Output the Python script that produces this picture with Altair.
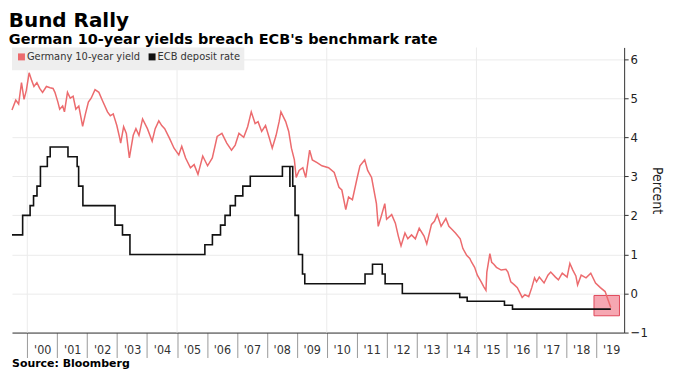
import altair as alt
import pandas as pd

# ---- Data ----
yield_dates = [
    "1999-06-28", "1999-08-13", "1999-09-17", "1999-10-22", "1999-11-22", "1999-12-20",
    "2000-01-23", "2000-02-24", "2000-03-22", "2000-04-27", "2000-05-31", "2000-07-05",
    "2000-08-21", "2000-10-05", "2000-11-10", "2000-12-03", "2001-01-08", "2001-01-30",
    "2001-03-07", "2001-03-29", "2001-05-05", "2001-06-08", "2001-07-13", "2001-08-15",
    "2001-09-20", "2001-11-06", "2001-12-10", "2002-01-15", "2002-02-18", "2002-04-06",
    "2002-05-23", "2002-07-09", "2002-09-05", "2002-10-09", "2002-11-14", "2002-12-28",
    "2003-02-02", "2003-02-13", "2003-03-21", "2003-04-23", "2003-05-30", "2003-07-16",
    "2003-08-18", "2003-09-24", "2003-11-07", "2004-01-05", "2004-03-03", "2004-04-09",
    "2004-05-23", "2004-06-28", "2004-08-03", "2004-10-01", "2004-11-25", "2005-01-22",
    "2005-02-27", "2005-04-15", "2005-06-13", "2005-07-28", "2005-09-13", "2005-11-10",
    "2006-01-08", "2006-03-07", "2006-05-05", "2006-07-02", "2006-08-30", "2006-10-27",
    "2006-12-11", "2007-01-26", "2007-03-25", "2007-05-12", "2007-06-25", "2007-08-11",
    "2007-09-16", "2007-10-30", "2007-12-16", "2008-02-02", "2008-03-07", "2008-04-23",
    "2008-05-30", "2008-06-21", "2008-08-18", "2008-09-24", "2008-10-27", "2008-12-02",
    "2008-12-24", "2009-01-29", "2009-03-15", "2009-04-20", "2009-06-06", "2009-07-09",
    "2009-09-05", "2009-11-03", "2010-01-23", "2010-04-02", "2010-05-30", "2010-07-04",
    "2010-08-21", "2010-09-24", "2010-11-10", "2011-01-08", "2011-02-10", "2011-04-09",
    "2011-05-15", "2011-07-02", "2011-08-30", "2011-09-21", "2011-10-27", "2011-12-10",
    "2012-01-01", "2012-03-03", "2012-04-17", "2012-05-23", "2012-06-25", "2012-08-12",
    "2012-09-16", "2012-10-31", "2012-12-17", "2013-02-02", "2013-04-02", "2013-05-05",
    "2013-07-02", "2013-08-07", "2013-09-09", "2013-10-27", "2013-12-24", "2014-01-30",
    "2014-03-04", "2014-04-20", "2014-06-17", "2014-07-20", "2014-09-06", "2014-10-12",
    "2014-11-03", "2014-12-10", "2015-01-12", "2015-02-28", "2015-04-01", "2015-04-27",
    "2015-05-08", "2015-06-14", "2015-07-06", "2015-08-01", "2015-09-02", "2015-10-30",
    "2015-12-27", "2016-01-20", "2016-02-24", "2016-04-08", "2016-05-14", "2016-07-12",
    "2016-08-14", "2016-09-30", "2016-11-06", "2016-12-10", "2017-01-03", "2017-02-06",
    "2017-04-05", "2017-05-22", "2017-06-25", "2017-08-22", "2017-09-27", "2017-11-13",
    "2018-01-11", "2018-02-14", "2018-03-22", "2018-04-28", "2018-05-19", "2018-07-02",
    "2018-08-30", "2018-10-27", "2018-12-24", "2019-02-21", "2019-04-20", "2019-05-23",
    "2019-06-28",
]
yield_values = [
    4.70, 4.95, 4.85, 5.40, 4.97, 5.20,
    5.65, 5.45, 5.30, 5.40, 5.25, 5.15,
    5.30, 5.27, 5.25, 5.15, 4.90, 4.72,
    4.80, 4.65, 5.15, 5.00, 5.05, 4.72,
    4.80, 4.28, 4.60, 4.90, 5.00, 5.22,
    5.15, 4.92, 4.65, 4.55, 4.60, 4.30,
    3.97, 3.85, 4.27, 4.10, 3.47, 4.05,
    4.22, 4.05, 4.47, 4.22, 3.90, 4.22,
    4.42, 4.30, 4.22, 3.97, 3.72, 3.55,
    3.77, 3.47, 3.22, 3.30, 3.05, 3.52,
    3.27, 3.47, 4.02, 4.10, 3.85, 3.67,
    3.80, 4.10, 4.00, 4.27, 4.65, 4.35,
    4.40, 4.15, 4.30, 3.97, 3.72, 4.05,
    4.40, 4.65, 4.40, 4.15, 3.72, 3.42,
    2.97, 3.15, 3.22, 2.97, 3.67, 3.42,
    3.35, 3.27, 3.22, 3.10, 2.72, 2.65,
    2.15, 2.47, 2.40, 2.97, 3.27, 3.42,
    3.15, 2.97, 2.30, 1.72, 1.97, 2.30,
    1.90, 2.02, 1.80, 1.47, 1.22, 1.55,
    1.40, 1.50, 1.40, 1.67, 1.47, 1.27,
    1.77, 1.85, 2.02, 1.72, 1.92, 1.72,
    1.65, 1.55, 1.40, 1.15, 0.97, 0.90,
    0.80, 0.67, 0.47, 0.30, 0.17, 0.08,
    0.55, 1.02, 0.80, 0.75, 0.67, 0.60,
    0.62, 0.55, 0.30, 0.22, 0.15, -0.10,
    -0.03, -0.08, 0.15, 0.40, 0.30, 0.42,
    0.27, 0.47, 0.55, 0.42, 0.35, 0.52,
    0.42, 0.77, 0.60, 0.45, 0.22, 0.47,
    0.40, 0.52, 0.27, 0.15, 0.05, -0.15,
    -0.36,
]

ecb_dates = [
    "1999-06-28", "1999-11-05", "2000-02-04", "2000-03-17", "2000-04-28", "2000-06-09",
    "2000-09-01", "2000-10-06", "2001-05-11", "2001-08-31", "2001-09-18", "2001-11-09",
    "2002-12-06", "2003-03-07", "2003-06-06", "2005-12-06", "2006-03-08", "2006-06-15",
    "2006-08-09", "2006-10-11", "2006-12-13", "2007-03-14", "2007-06-13", "2008-07-09",
    "2008-10-08", "2008-10-09", "2008-11-12", "2008-12-10", "2009-01-21", "2009-03-11",
    "2009-04-08", "2011-04-13", "2011-07-13", "2011-11-09", "2011-12-14", "2012-07-11",
    "2014-06-11", "2014-09-10", "2015-12-09", "2016-03-16", "2019-06-28",
]
ecb_values = [
    1.50, 2.00, 2.25, 2.50, 2.75, 3.25,
    3.50, 3.75, 3.50, 3.25, 2.75, 2.25,
    1.75, 1.50, 1.00, 1.25, 1.50, 1.75,
    2.00, 2.25, 2.50, 2.75, 3.00, 3.25,
    2.75, 3.25, 2.75, 2.00, 1.00, 0.50,
    0.25, 0.50, 0.75, 0.50, 0.25, 0.00,
    -0.10, -0.20, -0.30, -0.40, -0.40,
]

series_names = ["Germany 10-year yield", "ECB deposit rate"]
series_colors = ["#ec6b6e", "#111111"]
grid_years = ["2000-01-01", "2005-01-01", "2010-01-01", "2015-01-01"]
highlight_start = ["2018-12-05"]
highlight_end = ["2019-10-12"]
highlight_top = [-0.05]
highlight_bottom = [-0.57]
y_ticks = [-1, 0, 1, 2, 3, 4, 5, 6]
title_text = "Bund Rally"
subtitle_text = "German 10-year yields breach ECB's benchmark rate"
source_text = "Source: Bloomberg"

# ---- Tables ----
yld = pd.DataFrame({"date": yield_dates, "value": yield_values,
                    "series": series_names[0]})
ecb = pd.DataFrame({"date": ecb_dates, "value": ecb_values,
                    "series": series_names[1]})
grid = pd.DataFrame({"date": grid_years})
hl = pd.DataFrame({"date": highlight_start, "date2": highlight_end,
                   "value": highlight_top, "value2": highlight_bottom})
src = pd.DataFrame({"t": [source_text]})

W, H = 614, 286
LABEL_FONT = "DejaVu Sans Condensed, Liberation Sans Narrow, sans-serif"

x_scale = alt.Scale(domain=[alt.DateTime(year=1999, month=6, date=28),
                            alt.DateTime(year=2019, month=12, date=8)])
x_axis = alt.Axis(format="'%y", tickCount={"interval": "year", "step": 1},
                  labelOffset=15.0, tickSize=25, labelPadding=-14, grid=False,
                  domainColor="#333333", tickColor="#9a9a9a", labelFontSize=12.5,
                  labelColor="#333333", labelFont=LABEL_FONT, labelFlush=False,
                  labelOverlap=False, title="")
y_scale = alt.Scale(domain=[-1, 6.3], nice=False, zero=False)
y_axis = alt.Axis(orient="right", values=y_ticks, grid=True, gridColor="#ebebeb",
                  tickSize=4, tickColor="#333333", domainColor="#333333",
                  labelFontSize=13, labelPadding=2, labelColor="#222222",
                  labelFont=LABEL_FONT, title="Percent", titleAngle=90,
                  titleFontSize=14, titleFontWeight="normal", titlePadding=2,
                  titleColor="#222222", titleFont=LABEL_FONT)

X = alt.X("date:T", scale=x_scale, axis=x_axis)
Y = alt.Y("value:Q", scale=y_scale, axis=y_axis)

legend = alt.Legend(title=None, orient="top-left", offset=0, direction="horizontal",
                    fillColor="#eeeeee", padding=4, symbolType="square",
                    symbolSize=9, symbolStrokeWidth=4, labelFontSize=11,
                    labelFont=LABEL_FONT, labelColor="#333333", columnPadding=2,
                    labelOffset=0)
color_scale = alt.Scale(domain=series_names, range=series_colors)
C = alt.Color("series:N", scale=color_scale, legend=legend)

gridrules = alt.Chart(grid).mark_rule(color="#ebebeb", strokeWidth=1).encode(x=X)

rect = alt.Chart(hl).mark_rect(fill="#f38a98", fillOpacity=0.75, stroke="#e0485a",
                               strokeWidth=1).encode(
    x=X, x2="date2:T", y=Y, y2="value2:Q")

ecb_line = alt.Chart(ecb).mark_line(interpolate="step-after", strokeWidth=1.6).encode(
    x=X, y=Y, color=C)

yld_line = alt.Chart(yld).mark_line(strokeWidth=1.5).encode(x=X, y=Y, color=C)

source = alt.Chart(src).mark_text(align="left", baseline="alphabetic", fontSize=11,
                                  fontWeight="bold", font="DejaVu Sans",
                                  color="#000000").encode(
    text="t:N", x=alt.value(0), y=alt.value(H + 35))

chart = alt.layer(gridrules, rect, ecb_line, yld_line, source).properties(
    width=W, height=H,
    padding={"left": 0, "top": 3, "right": 8, "bottom": 0},
    title=alt.TitleParams(title_text, subtitle=subtitle_text, anchor="start",
                          font="DejaVu Sans", fontSize=20, fontWeight="bold",
                          color="#000000", subtitleFont="DejaVu Sans",
                          subtitleFontSize=14.5, subtitleFontWeight="bold",
                          subtitleColor="#000000", subtitlePadding=2, offset=0),
).configure_view(strokeWidth=0)

chart.save("out.html", embed_options={"renderer": "svg", "actions": False})
